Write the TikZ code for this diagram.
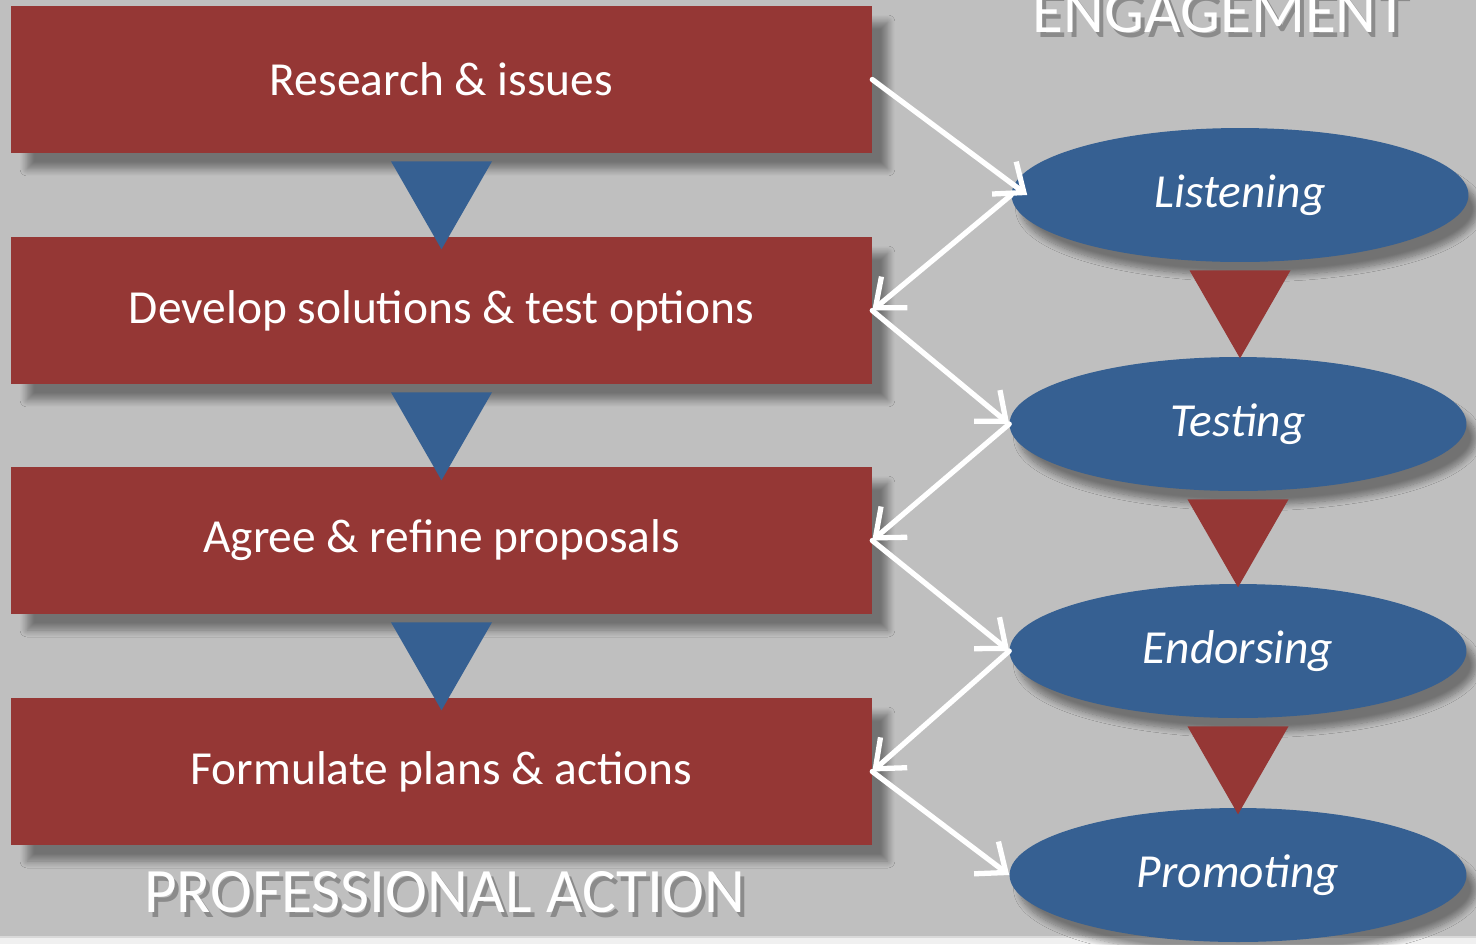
\documentclass[tikz,border=0pt]{standalone}
\usepackage{fontspec}
\setmainfont{Carlito}
\usetikzlibrary{positioning,calc,shapes.geometric,shadows.blur,arrows.meta}
\definecolor{slide}{RGB}{191,191,191}
\definecolor{brick}{RGB}{149,55,53}
\definecolor{steel}{RGB}{54,96,146}
\tikzset{%
  stage/.style={rectangle, fill=brick, text=white, inner sep=0pt,
    minimum width=17.22cm, minimum height=2.94cm,
    font=\fontsize{27}{32}\selectfont,
    blur shadow={shadow xshift=0.32cm, shadow yshift=-0.32cm,
      shadow blur radius=0.14cm, shadow blur steps=10,
      shadow opacity=40, shadow scale=1}},% professional action step
  talk/.style={ellipse, fill=steel, text=white, inner sep=0pt,
    minimum width=9.14cm, minimum height=2.68cm,
    font=\fontsize{27}{32}\selectfont\itshape,
    blur shadow={shadow xshift=0.2cm, shadow yshift=-0.28cm,
      shadow blur radius=0.12cm, shadow blur steps=10,
      shadow opacity=40, shadow scale=1}},% engagement step
  feed/.style={draw=white, line width=3pt, line cap=round,
    -{Straight Barb[length=14pt, width=23pt, line width=3pt]}},% white exchange arrow
  title/.style={text=white, inner sep=0pt, anchor=base,
    font=\fontsize{36}{42}\selectfont},
  titleshade/.style={title, text=black!70, opacity=0.45}
}
\newcommand*{\funnel}[2]{% down triangle under node #2
  \fill[#1] ($(#2.south)+(-50.5,8)$) -- ($(#2.south)+(50.5,8)$)
    -- ($(#2.south)+(0,96)$) -- cycle;}
\begin{document}
\begin{tikzpicture}[x=0.02cm, y=-0.02cm]
\useasboundingbox (0,0) rectangle (1476,944);
\fill[slide] (0,0) rectangle (1476,937);
\fill[white!94!black] (0,937) rectangle (1476,944);
\draw[white!85!black, line width=1pt] (0,937) -- (1476,937);

% titles
\node[titleshade] (eng shadow) at (1224,37) {ENGAGEMENT};
\node[title] (eng) at (1220,32) {ENGAGEMENT};
\node[titleshade] (pro shadow) at (449,917) {PROFESSIONAL ACTION};
\node[title] (pro) at (445,912) {PROFESSIONAL ACTION};

% professional action
\node[stage] (research) at (441.5,79.5) {Research \& issues};
\node[stage] (develop) at (441.5,310.5) {Develop solutions \& test options};
\node[stage] (agree) at (441.5,540.5) {Agree \& refine proposals};
\node[stage] (formulate) at (441.5,771.5) {Formulate plans \& actions};

% engagement
\node[talk] (listen) at (1240,195) {Listening};
\node[talk] (test) at (1238,424) {Testing};
\node[talk] (endorse) at (1238,651) {Endorsing};
\node[talk] (promote) at (1238,875) {Promoting};

\funnel{steel}{research}
\funnel{steel}{develop}
\funnel{steel}{agree}
\funnel{brick}{listen}
\funnel{brick}{test}
\funnel{brick}{endorse}

\draw[feed] (research.east) -- ($(listen.west)+(16,0)$);
\draw[feed] (listen.west) -- (develop.east);
\draw[feed] (develop.east) -- (test.west);
\draw[feed] (test.west) -- (agree.east);
\draw[feed] (agree.east) -- (endorse.west);
\draw[feed] (endorse.west) -- (formulate.east);
\draw[feed] (formulate.east) -- (promote.west);
\end{tikzpicture}
\end{document}
